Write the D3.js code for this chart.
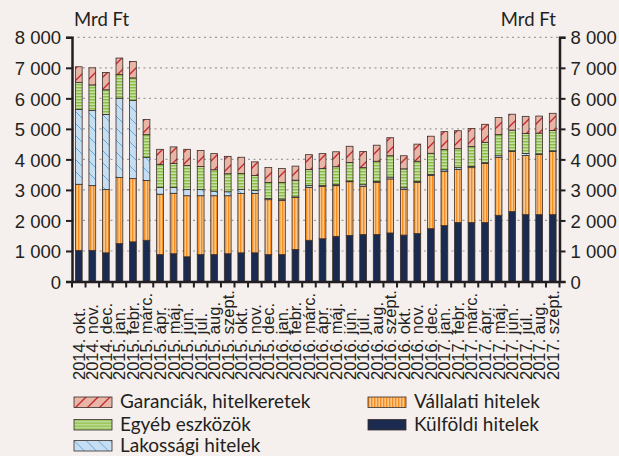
<!DOCTYPE html>
<html>
<head>
<meta charset="utf-8">
<script src="https://cdn.jsdelivr.net/npm/d3@7"></script>
<style>
  html, body { margin: 0; padding: 0; background: #f5efed; }
  svg { display: block; font-family: Lato, "Noto Sans", sans-serif; }
</style>
</head>
<body>
<svg id="chart" width="619" height="456"></svg>
<script>
// months on the x axis
const months = [
  '2014. okt.', '2014. nov.', '2014. dec.', '2015. jan.', '2015. febr.', '2015. márc.',
  '2015. ápr.', '2015. máj.', '2015. jún.', '2015. júl.', '2015. aug.', '2015. szept.',
  '2015. okt.', '2015. nov.', '2015. dec.', '2016. jan.', '2016. febr.', '2016. márc.',
  '2016. ápr.', '2016. máj.', '2016. jún.', '2016. júl.', '2016. aug.', '2016. szept.',
  '2016. okt.', '2016. nov.', '2016. dec.', '2017. jan.', '2017. febr.', '2017. márc.',
  '2017. ápr.', '2017. máj.', '2017. jún.', '2017. júl.', '2017. aug.', '2017. szept.'
];

// Mrd Ft, bottom to top of the stack
const kulfoldi = [1020, 1020, 940, 1240, 1300, 1350, 880, 910, 810, 880, 880, 910,
  940, 940, 880, 880, 1050, 1350, 1400, 1480, 1510, 1540, 1540, 1590,
  1520, 1570, 1730, 1830, 1930, 1930, 1930, 2170, 2290, 2190, 2190, 2190];
const vallalati = [2165, 2120, 2070, 2165, 2070, 1960, 1980, 1980, 2000, 1930, 1930, 1900,
  1940, 1940, 1800, 1770, 1700, 1730, 1710, 1660, 1760, 1570, 1710, 1770,
  1490, 1670, 1740, 1770, 1740, 1800, 1940, 1890, 1970, 1940, 1970, 2070];
const lakossagi = [2450, 2460, 2460, 2600, 2560, 760, 220, 190, 200, 200, 150, 130,
  140, 100, 40, 50, 20, 60, 30, 30, 20, 60, 30, 60,
  60, 40, 40, 60, 60, 40, 20, 60, 20, 60, 20, 20];
const egyeb = [890, 840, 810, 775, 740, 740, 760, 790, 790, 760, 700, 590,
  520, 490, 525, 540, 550, 525, 560, 590, 610, 560, 660, 700,
  620, 660, 690, 660, 620, 650, 670, 690, 680, 660, 680, 670];
const garanciak = [510, 560, 570, 540, 540, 500, 490, 540, 530, 525, 530, 570,
  530, 450, 490, 460, 460, 490, 490, 490, 530, 530, 525, 590,
  430, 560, 560, 590, 590, 590, 590, 560, 520, 560, 560, 560];

const yTicks = [0, 1000, 2000, 3000, 4000, 5000, 6000, 7000, 8000];
const unitLabel = 'Mrd Ft';

const seriesKeys = ['kulfoldi', 'vallalati', 'lakossagi', 'egyeb', 'garanciak'];
const seriesNames = {
  garanciak: 'Garanciák, hitelkeretek',
  egyeb: 'Egyéb eszközök',
  lakossagi: 'Lakossági hitelek',
  vallalati: 'Vállalati hitelek',
  kulfoldi: 'Külföldi hitelek'
};

const table = months.map((m, i) => ({
  month: m,
  kulfoldi: kulfoldi[i],
  vallalati: vallalati[i],
  lakossagi: lakossagi[i],
  egyeb: egyeb[i],
  garanciak: garanciak[i]
}));

const svg = d3.select('#chart');
const plotL = 72, plotR = 559.5, plotT = 37.3, plotB = 281.5;
const ink = '#231f20';

// fill patterns
const defs = svg.append('defs');
function pattern(id, w, h, bg, draw) {
  const p = defs.append('pattern').attr('id', id)
    .attr('patternUnits', 'userSpaceOnUse').attr('width', w).attr('height', h);
  p.append('rect').attr('width', w).attr('height', h).attr('fill', bg);
  draw(p);
}
pattern('p-kulfoldi', 4, 4, '#1b2a4f', p => {});
pattern('p-vallalati', 3, 3, '#f68d1f', p =>
  p.append('rect').attr('x', 1.6).attr('width', 1.1).attr('height', 3).attr('fill', '#fde2bd'));
pattern('p-lakossagi', 12, 12, '#c6def2', p =>
  p.append('path').attr('d', 'M0,0L12,12M-6,6L6,18M6,-6L18,6')
    .attr('stroke', '#62a8dc').attr('stroke-width', 1));
pattern('p-egyeb', 4, 3, '#8abd46', p =>
  p.append('rect').attr('y', 1.6).attr('width', 4).attr('height', 1.1).attr('fill', '#e2efcd'));
pattern('p-garanciak', 12, 12, '#e8b5a6', p =>
  p.append('path').attr('d', 'M0,12L12,0M-6,6L6,-6M6,18L18,6')
    .attr('stroke', '#c3252d').attr('stroke-width', 1.3));

const x = d3.scaleBand().domain(months).range([plotL, plotR]).paddingInner(0.5).paddingOuter(0.25);
const y = d3.scaleLinear().domain([0, 8000]).range([plotB, plotT]);
const fmt = d => d3.format(',')(d).replace(/,/g, ' ');

// dotted grid
svg.append('g').selectAll('line')
  .data(yTicks.filter(d => d > 0))
  .join('line')
  .attr('x1', plotL).attr('x2', plotR)
  .attr('y1', d => y(d)).attr('y2', d => y(d))
  .attr('stroke', '#9d9d9d').attr('stroke-width', 1.2)
  .attr('stroke-dasharray', '2,3.5');

// stacked bars
const stacked = d3.stack().keys(seriesKeys)(table);
svg.append('g').selectAll('g')
  .data(stacked)
  .join('g')
  .attr('fill', s => `url(#p-${s.key})`)
  .selectAll('rect')
  .data(s => s)
  .join('rect')
  .attr('x', d => x(d.data.month))
  .attr('width', x.bandwidth())
  .attr('y', d => y(d[1]))
  .attr('height', d => y(d[0]) - y(d[1]))
  .attr('stroke', '#3a2d29').attr('stroke-width', 0.8);

// axes
const axisFont = 18.5;
const yLeft = svg.append('g').attr('transform', `translate(${plotL},0)`)
  .call(d3.axisLeft(y).tickValues(yTicks).tickFormat(fmt).tickSizeOuter(0).tickSize(6).tickPadding(5));
const yRight = svg.append('g').attr('transform', `translate(${plotR},0)`)
  .call(d3.axisRight(y).tickValues(yTicks).tickFormat(fmt).tickSizeOuter(0).tickSize(6).tickPadding(5));
[yLeft, yRight].forEach(a => {
  a.select('.domain').attr('stroke', ink).attr('stroke-width', 2.5);
  a.selectAll('.tick line').attr('stroke', ink).attr('stroke-width', 2);
  a.selectAll('.tick text').attr('fill', ink).style('font-size', axisFont + 'px')
    .attr('dy', '0.36em');
});

const xAxis = svg.append('g').attr('transform', `translate(0,${plotB})`)
  .call(d3.axisBottom(x).tickSize(0).tickSizeOuter(0));
xAxis.select('.domain').attr('stroke', ink).attr('stroke-width', 2.5);
xAxis.selectAll('.tick text')
  .attr('fill', ink).style('font-size', '16.5px')
  .attr('transform', 'rotate(-90)')
  .attr('text-anchor', 'start')
  .attr('x', -(380 - plotB)).attr('y', 0).attr('dy', '0.36em');

// ticks between bars
xAxis.append('g').selectAll('line')
  .data(d3.range(months.length + 1))
  .join('line')
  .attr('x1', i => plotL + i * x.step()).attr('x2', i => plotL + i * x.step())
  .attr('y1', 0).attr('y2', 6)
  .attr('stroke', ink).attr('stroke-width', 2);

// unit labels
svg.append('text').attr('x', 74).attr('y', 26).text(unitLabel)
  .attr('fill', ink).style('font-size', axisFont + 'px');
svg.append('text').attr('x', 556).attr('y', 26).text(unitLabel)
  .attr('text-anchor', 'end').attr('fill', ink).style('font-size', axisFont + 'px');

// legend
const legendItems = [
  { key: 'garanciak', x: 74, y: 397 },
  { key: 'egyeb', x: 74, y: 419.5 },
  { key: 'lakossagi', x: 74, y: 440.5 },
  { key: 'vallalati', x: 368, y: 397 },
  { key: 'kulfoldi', x: 368, y: 419.5 }
];
const lg = svg.append('g').selectAll('g')
  .data(legendItems)
  .join('g')
  .attr('transform', d => `translate(${d.x},${d.y})`);
lg.append('rect')
  .attr('width', 38).attr('height', 10.5)
  .attr('fill', d => `url(#p-${d.key})`)
  .attr('stroke', '#3a2d29').attr('stroke-width', 0.8);
lg.append('text')
  .attr('x', 46).attr('y', 11)
  .attr('fill', ink).style('font-size', '19px')
  .text(d => seriesNames[d.key]);
</script>
</body>
</html>
